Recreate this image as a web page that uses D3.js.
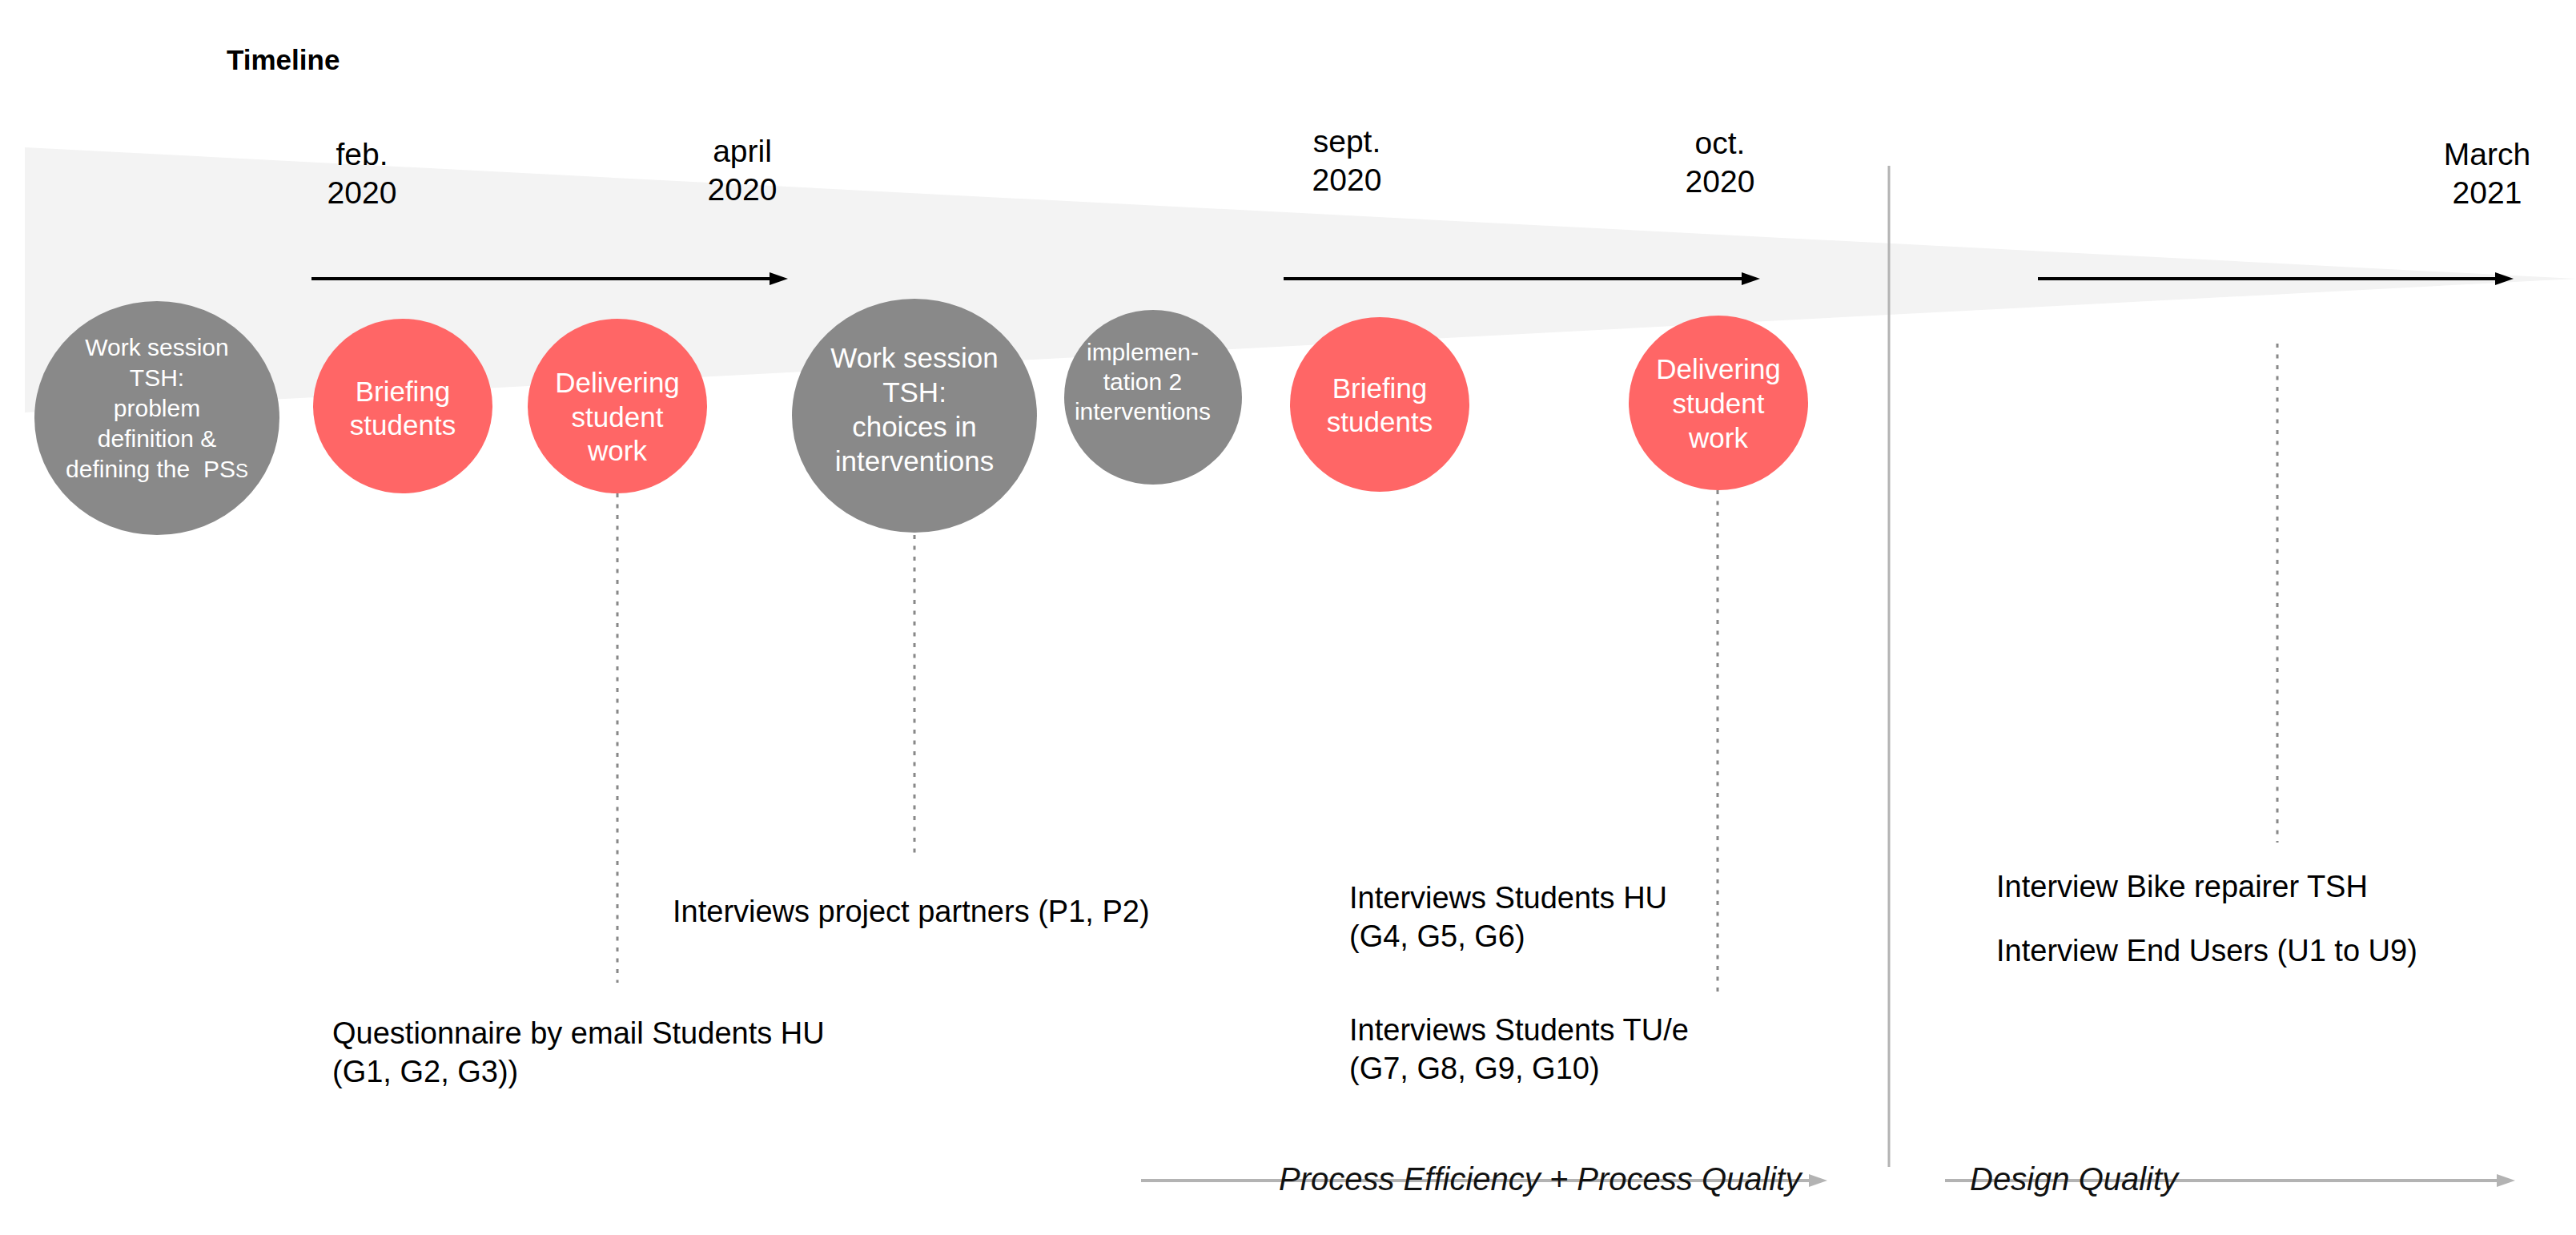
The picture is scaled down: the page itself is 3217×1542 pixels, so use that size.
<!DOCTYPE html>
<html>
<head>
<meta charset="utf-8">
<script src="https://cdn.jsdelivr.net/npm/d3@7"></script>
<style>
    html, body { margin: 0; padding: 0; background: #fff; }
    svg { display: block; }
    text { font-family: "Liberation Sans", Arial, Helvetica, sans-serif; white-space: pre; }
</style>
</head>
<body>
<div id="chart"></div>
<script>
// ---- data ----
var title = "Timeline";
var monthLabels = ["feb.", "april", "sept.", "oct.", "March"];
var yearLabels = ["2020", "2020", "2020", "2020", "2021"];

var eventKinds = ["session", "briefing", "delivery", "session", "implementation", "briefing", "delivery"];
var eventLabels = [
    ["Work session", "TSH:", "problem", "definition &", "defining the  PSS"],
    ["Briefing", "students"],
    ["Delivering", "student", "work"],
    ["Work session", "TSH:", "choices in", "interventions"],
    ["implemen-", "tation 2", "interventions"],
    ["Briefing", "students"],
    ["Delivering", "student", "work"]
];

var noteLabels = [
    ["Questionnaire by email Students HU", "(G1, G2, G3))"],
    ["Interviews project partners (P1, P2)"],
    ["Interviews Students HU", "(G4, G5, G6)"],
    ["Interviews Students TU/e", "(G7, G8, G9, G10)"],
    ["Interview Bike repairer TSH"],
    ["Interview End Users (U1 to U9)"]
];

var phaseLabels = ["Process Efficiency + Process Quality", "Design Quality"];

// ---- layout (reference units, mapped through the scales) ----
var dateX = [452, 927, 1682, 2148, 3106];
var dateY = [206, 202, 190, 192, 206];
var eventX = [196, 503, 771, 1142, 1440, 1723, 2146];
var eventY = [522, 507, 507, 519, 496, 505, 503];
var labelTop = [-78, -6, -17, -60, -46, -8, -30];
var labelDx = [0, 0, 0, 0, -13, 0, 0];
var labelSize = [30, 35, 35, 35, 30, 35, 35];
var labelStep = [38, 42, 42.5, 43, 37, 42, 43];
var segments = [[389, 984], [1603, 2198], [2545, 3139]];
var stems = [[771, 616, 1227], [1142, 668, 1071], [2145, 612, 1241], [2844, 429, 1052]];
var noteX = [415, 840, 1685, 1685, 2493, 2493];
var noteY = [1303, 1151, 1134, 1299, 1120, 1200];
var phaseArrows = [[1425, 2282], [2429, 3141]];
var phaseX = [1597, 2460];
var wedge = [[31, 184], [3217, 348], [31, 515]];

var kindStyle = {
    session:        { fill: "#898989", rx: 153, ry: 146 },
    implementation: { fill: "#898989", rx: 111, ry: 109 },
    briefing:       { fill: "#ff6666", rx: 112, ry: 109 },
    delivery:       { fill: "#ff6666", rx: 112, ry: 109 }
};

var width = 3217, height = 1542;
var x = d3.scaleLinear().domain([0, 3217]).range([0, width]);
var y = d3.scaleLinear().domain([0, 1542]).range([0, height]);

var svg = d3.select("#chart").append("svg")
    .attr("width", width)
    .attr("height", height);

var defs = svg.append("defs");
function marker(id, color) {
    defs.append("marker")
        .attr("id", id)
        .attr("viewBox", "0 -8 23 16")
        .attr("refX", 3).attr("refY", 0)
        .attr("markerUnits", "userSpaceOnUse")
        .attr("markerWidth", 23).attr("markerHeight", 16)
        .attr("orient", "auto")
        .append("path")
        .attr("d", "M0,-8L23,0L0,8Z")
        .attr("fill", color);
}
marker("head-black", "#000");
marker("head-gray", "#b3b3b3");

// background wedge
svg.append("path")
    .attr("d", d3.line().x(d => x(d[0])).y(d => y(d[1]))(wedge) + "Z")
    .attr("fill", "#f3f3f3");

// title
svg.append("text")
    .attr("x", x(283)).attr("y", y(87))
    .attr("font-size", 35).attr("font-weight", "bold")
    .text(title);

// date labels
var dates = svg.selectAll("g.date").data(monthLabels).enter().append("g").attr("class", "date");
dates.append("text")
    .attr("x", (d, i) => x(dateX[i])).attr("y", (d, i) => y(dateY[i]))
    .attr("text-anchor", "middle").attr("font-size", 39)
    .text(d => d);
dates.append("text")
    .attr("x", (d, i) => x(dateX[i])).attr("y", (d, i) => y(dateY[i] + 48))
    .attr("text-anchor", "middle").attr("font-size", 39)
    .text((d, i) => yearLabels[i]);

// timeline arrows
svg.selectAll("line.segment").data(segments).enter().append("line")
    .attr("class", "segment")
    .attr("x1", d => x(d[0])).attr("x2", d => x(d[1] - 20))
    .attr("y1", y(348)).attr("y2", y(348))
    .attr("stroke", "#000").attr("stroke-width", 4)
    .attr("marker-end", "url(#head-black)");

// separator
svg.append("line")
    .attr("x1", x(2359)).attr("x2", x(2359))
    .attr("y1", y(207)).attr("y2", y(1457))
    .attr("stroke", "#b3b3b3").attr("stroke-width", 3);

// dotted stems
svg.selectAll("line.stem").data(stems).enter().append("line")
    .attr("class", "stem")
    .attr("x1", d => x(d[0])).attr("x2", d => x(d[0]))
    .attr("y1", d => y(d[1])).attr("y2", d => y(d[2]))
    .attr("stroke", "#888").attr("stroke-width", 3)
    .attr("stroke-dasharray", "5,8.5");

// events
var ev = svg.selectAll("g.event").data(eventKinds).enter().append("g").attr("class", "event");
ev.append("ellipse")
    .attr("cx", (d, i) => x(eventX[i])).attr("cy", (d, i) => y(eventY[i]))
    .attr("rx", d => kindStyle[d].rx).attr("ry", d => kindStyle[d].ry)
    .attr("fill", d => kindStyle[d].fill);
ev.each(function(d, i) {
    var size = labelSize[i];
    d3.select(this).selectAll("text").data(eventLabels[i]).enter().append("text")
        .attr("x", x(eventX[i] + labelDx[i]))
        .attr("y", (t, j) => y(eventY[i] + labelTop[i] + j * labelStep[i]))
        .attr("text-anchor", "middle")
        .attr("font-size", size)
        .attr("fill", "#fff")
        .each(function(t) {
            var el = d3.select(this);
            // the trailing S of "PSS" is set smaller in the source
            if (/PSS$/.test(t)) {
                el.append("tspan").text(t.slice(0, -1));
                el.append("tspan").attr("font-size", size * 0.8).text("S");
            } else {
                el.text(t);
            }
        });
});

// notes
var notes = svg.selectAll("g.note").data(noteLabels).enter().append("g").attr("class", "note");
notes.each(function(d, i) {
    d3.select(this).selectAll("text").data(d).enter().append("text")
        .attr("x", x(noteX[i]))
        .attr("y", (t, j) => y(noteY[i] + j * 48))
        .attr("font-size", 38)
        .attr("fill", "#000")
        .text(t => t);
});

// phase arrows
svg.selectAll("line.phase").data(phaseArrows).enter().append("line")
    .attr("class", "phase")
    .attr("x1", d => x(d[0])).attr("x2", d => x(d[1] - 20))
    .attr("y1", y(1474)).attr("y2", y(1474))
    .attr("stroke", "#b3b3b3").attr("stroke-width", 4)
    .attr("marker-end", "url(#head-gray)");
svg.selectAll("text.phase").data(phaseLabels).enter().append("text")
    .attr("class", "phase")
    .attr("x", (d, i) => x(phaseX[i])).attr("y", y(1486))
    .attr("font-size", 40).attr("font-style", "italic")
    .attr("fill", "#111")
    .text(d => d);
</script>
</body>
</html>
